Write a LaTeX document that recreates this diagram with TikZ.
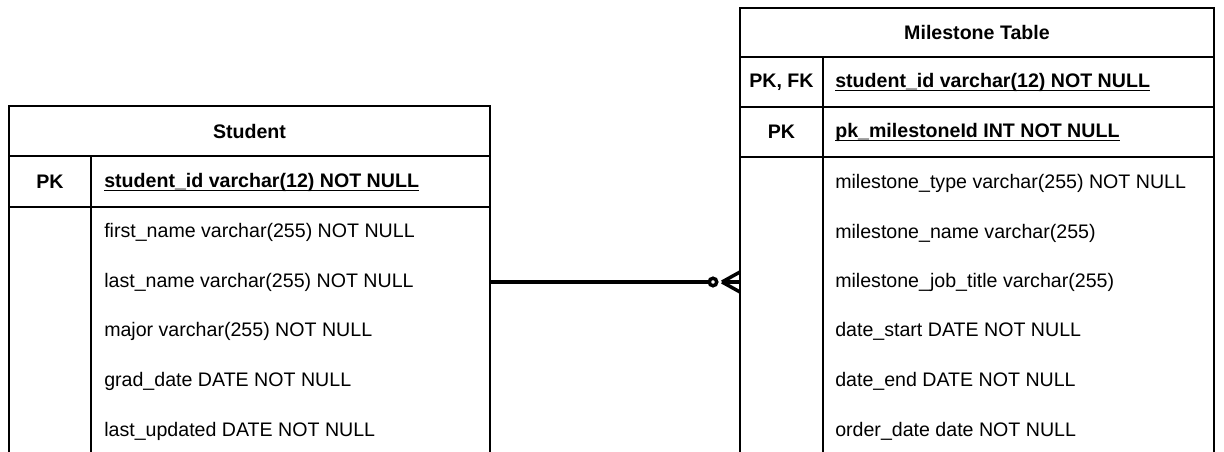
\documentclass[tikz,border=0pt]{standalone}
\usepackage{fontspec}
\setmainfont{Liberation Sans}
\usepackage{tikz}

\tikzset{
  frame/.style={line width=1.1pt},
  title/.style={font=\bfseries\fontsize{14.7}{17}\selectfont},
  keyfield/.style={anchor=west,inner sep=0pt,font=\bfseries\fontsize{14.7}{17}\selectfont},
  field/.style={anchor=west,inner sep=0pt,font=\fontsize{14.7}{17}\selectfont},
  keyline/.style={line width=0.8pt},
  relation/.style={line width=3pt},
  crowfoot/.style={line width=2.6pt}
}

\begin{document}
\begin{tikzpicture}[x=0.75pt,y=-0.75pt]
\useasboundingbox (0,0) rectangle (1224,452);
\clip (0,0) rectangle (1224,452);
% Student table
\begin{scope}
\draw[frame] (9,470) -- (9,106) -- (490,106) -- (490,470);
\draw[frame] (9,156) -- (490,156);
\draw[frame] (9,207) -- (490,207);
\draw[frame] (91,156) -- (91,470);
\node[title] (stu-title) at (249.5,131) {Student};
\node[title] (stu-pk) at (50,182) {PK};
\node[keyfield] (stu-id) at (104,182) {student\_id varchar(12) NOT NULL};
\draw[keyline] ([yshift=-2.6pt]stu-id.base west) -- ([yshift=-2.6pt]stu-id.base east);
\foreach \y/\n/\t in {232/first/first\_name varchar(255) NOT NULL,
                      282/last/last\_name varchar(255) NOT NULL,
                      331/major/major varchar(255) NOT NULL,
                      381/grad/grad\_date DATE NOT NULL,
                      431/upd/last\_updated DATE NOT NULL}
  \node[field] (stu-\n) at (104,\y) {\t};
\coordinate (stu-e) at (490,282);
\end{scope}
% Milestone table
\begin{scope}
\draw[frame] (740,470) -- (740,8) -- (1214,8) -- (1214,470);
\draw[frame] (740,57) -- (1214,57);
\draw[frame] (740,107) -- (1214,107);
\draw[frame] (740,157) -- (1214,157);
\draw[frame] (823,57) -- (823,470);
\node[title] (ms-title) at (977,32.5) {Milestone Table};
\node[title] (ms-pkfk) at (781.5,82) {PK, FK};
\node[keyfield] (ms-sid) at (835,82) {student\_id varchar(12) NOT NULL};
\node[title] (ms-pk) at (781.5,132) {PK};
\node[keyfield] (ms-mid) at (835,132) {pk\_milestoneId INT NOT NULL};
\foreach \k in {ms-sid,ms-mid}
  \draw[keyline] ([yshift=-2.6pt]\k.base west) -- ([yshift=-2.6pt]\k.base east);
\foreach \y/\n/\t in {183/type/milestone\_type varchar(255) NOT NULL,
                      233/name/milestone\_name varchar(255),
                      282/job/milestone\_job\_title varchar(255),
                      331/start/date\_start DATE NOT NULL,
                      381/end/date\_end DATE NOT NULL,
                      431/order/order\_date date NOT NULL}
  \node[field] (ms-\n) at (835,\y) {\t};
\coordinate (ms-w) at (740,282);
\end{scope}
% one-to-many (zero or more) relation
\coordinate (ms-ring) at (713,282);
\coordinate (ms-foot) at (722,282);
\draw[relation] (stu-e) -- (708,282);
\draw[crowfoot,fill=white] (ms-ring) circle (2.8pt);
\draw[crowfoot] (ms-foot) -- (740,272);
\draw[crowfoot] (ms-foot) -- (ms-w);
\draw[crowfoot] (ms-foot) -- (740,292);
\end{tikzpicture}
\end{document}
